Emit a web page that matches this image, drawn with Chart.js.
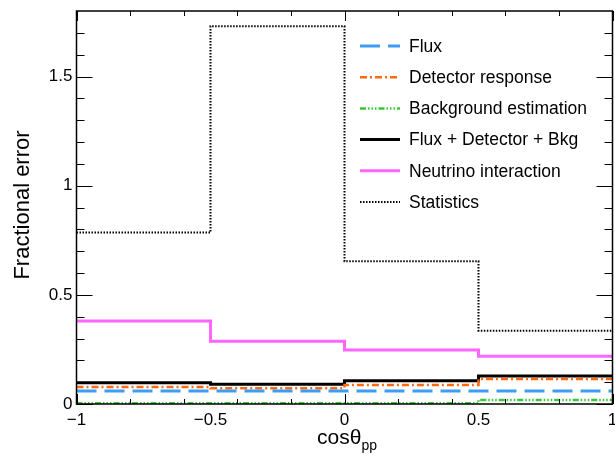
<!DOCTYPE html>
<html>
<head>
<meta charset="utf-8">
<title>Fractional error vs cos theta_pp</title>
<script src="https://cdn.jsdelivr.net/npm/chart.js@4.4.1/dist/chart.umd.min.js"></script>
<style>
  html, body { margin: 0; padding: 0; background: #fff; }
  canvas { display: block; }
</style>
</head>
<body>
<canvas id="errChart" width="615" height="458"></canvas>
<script>
// bin edges in cos(theta_pp) and the fractional error of each bin
const binEdges = [-1, -0.5, 0, 0.5, 1];
const fluxErr = [0.059, 0.059, 0.059, 0.059];
const detectorErr = [0.078, 0.072, 0.087, 0.114];
const bkgErr = [0.003, 0.003, 0.003, 0.018];
const totalErr = [0.097, 0.090, 0.107, 0.128];
const xsecErr = [0.380, 0.287, 0.247, 0.219];
const statErr = [0.785, 1.730, 0.654, 0.336];

// axis labels and tick marks
const xTickLabels = [-1, -0.5, 0, 0.5, 1];
const yTickLabels = [0, 0.5, 1, 1.5];
const xMajorTicks = [-1, 0, 1];
const xMinorTicks = [-0.8, -0.6, -0.4, -0.2, 0.2, 0.4, 0.6, 0.8];
const yMajorTicks = [0, 0.5, 1, 1.5];
const yMinorTicks = [0.1, 0.2, 0.3, 0.4, 0.6, 0.7, 0.8, 0.9, 1.1, 1.2, 1.3, 1.4, 1.6, 1.7];

const FONT = "'Liberation Sans', Arial, Helvetica, sans-serif";
Chart.defaults.font.family = FONT;
Chart.defaults.color = "#000";

// histogram -> step points (last edge repeats the last bin)
function steps(vals) {
  return binEdges.map((x, i) => ({ x, y: vals[Math.min(i, vals.length - 1)] }));
}

function fmt(v) {
  const s = String(Math.round(v * 10) / 10);
  return s.replace("-", "\u2212");
}

const series = [
  { label: "Flux", vals: fluxErr, color: "#3d9df2", width: 3, dash: [20, 8] },
  { label: "Detector response", vals: detectorErr, color: "#ff6a10", width: 2.5, dash: [7, 3, 2, 3] },
  { label: "Background estimation", vals: bkgErr, color: "#36c936", width: 2.5, dash: [6, 2, 1.5, 2, 1.5, 2, 1.5, 2] },
  { label: "Flux + Detector + Bkg", vals: totalErr, color: "#000000", width: 3, dash: [] },
  { label: "Neutrino interaction", vals: xsecErr, color: "#ff66ff", width: 3, dash: [] },
  { label: "Statistics", vals: statErr, color: "#000000", width: 2, dash: [1.5, 1.5] },
];

const datasets = series.map((s) => ({
  label: s.label,
  data: steps(s.vals),
  stepped: "before",
  borderColor: s.color,
  borderWidth: s.width,
  borderDash: s.dash,
  pointRadius: 0,
  fill: false,
  tension: 0,
}));

// ROOT-style frame with inward ticks, legend and axis titles
const framePlugin = {
  id: "frame",
  afterDraw(chart) {
    const { ctx, chartArea: a, scales } = chart;
    const xs = scales.x, ys = scales.y;
    ctx.save();
    ctx.strokeStyle = "#000";
    ctx.lineWidth = 1.5;
    ctx.setLineDash([]);
    ctx.strokeRect(a.left, a.top, a.right - a.left, a.bottom - a.top);

    ctx.lineWidth = 1;
    ctx.beginPath();
    const xTick = (v, len) => {
      const px = Math.round(xs.getPixelForValue(v)) + 0.5;
      ctx.moveTo(px, a.bottom); ctx.lineTo(px, a.bottom - len);
      ctx.moveTo(px, a.top); ctx.lineTo(px, a.top + len);
    };
    const yTick = (v, len) => {
      const py = Math.round(ys.getPixelForValue(v)) + 0.5;
      ctx.moveTo(a.left, py); ctx.lineTo(a.left + len, py);
      ctx.moveTo(a.right, py); ctx.lineTo(a.right - len, py);
    };
    xMajorTicks.forEach((v) => xTick(v, 10));
    xMinorTicks.forEach((v) => xTick(v, 5));
    yMajorTicks.forEach((v) => yTick(v, 16));
    yMinorTicks.forEach((v) => yTick(v, 8));
    ctx.stroke();

    // legend
    const lx = 360, ly = 46, row = 31.2;
    chart.data.datasets.forEach((ds, i) => {
      const y = ly + i * row;
      ctx.beginPath();
      ctx.strokeStyle = ds.borderColor;
      ctx.lineWidth = ds.borderWidth;
      ctx.setLineDash(ds.borderDash);
      ctx.moveTo(lx, y);
      ctx.lineTo(lx + 40, y);
      ctx.stroke();
      ctx.setLineDash([]);
      ctx.fillStyle = "#000";
      ctx.font = "17.5px " + FONT;
      ctx.textAlign = "left";
      ctx.textBaseline = "middle";
      ctx.fillText(ds.label, lx + 49, y + 1);
    });

    // axis titles
    ctx.fillStyle = "#000";
    ctx.font = "21px " + FONT;
    ctx.textBaseline = "alphabetic";
    ctx.textAlign = "left";
    const main = "cos\u03b8";
    const wMain = ctx.measureText(main).width;
    ctx.font = "14px " + FONT;
    const wSub = ctx.measureText("pp").width;
    const tx = 347 - (wMain + wSub) / 2;
    ctx.font = "21px " + FONT;
    ctx.fillText(main, tx, 444);
    ctx.font = "14px " + FONT;
    ctx.fillText("pp", tx + wMain, 450);

    ctx.translate(29, 205);
    ctx.rotate(-Math.PI / 2);
    ctx.font = "22px " + FONT;
    ctx.textAlign = "center";
    ctx.fillText("Fractional error", 0, 0);
    ctx.restore();
  },
};

const ctx = document.getElementById("errChart").getContext("2d");
const chart = new Chart(ctx, {
  type: "line",
  data: { datasets },
  options: {
    responsive: false,
    animation: false,
    devicePixelRatio: 1,
    layout: { padding: { top: 11, right: 2.5, left: 0, bottom: 0 } },
    plugins: {
      legend: { display: false },
      tooltip: { enabled: false },
    },
    scales: {
      x: {
        type: "linear",
        min: -1,
        max: 1,
        afterBuildTicks: (s) => { s.ticks = xTickLabels.map((v) => ({ value: v })); },
        afterFit: (s) => { s.height = 54; s.paddingLeft = 0; s.paddingRight = 0; },
        grid: { display: false, drawTicks: false },
        border: { display: false },
        ticks: {
          autoSkip: false,
          maxRotation: 0,
          padding: 6,
          font: { size: 17 },
          callback: (v) => fmt(v),
        },
      },
      y: {
        type: "linear",
        min: 0,
        max: 1.8,
        afterBuildTicks: (s) => { s.ticks = yTickLabels.map((v) => ({ value: v })); },
        afterFit: (s) => { s.width = 76.5; s.paddingTop = 0; s.paddingBottom = 0; },
        grid: { display: false, drawTicks: false },
        border: { display: false },
        ticks: {
          padding: 4,
          font: { size: 17 },
          callback: (v) => fmt(v),
        },
      },
    },
  },
  plugins: [framePlugin],
});
</script>
</body>
</html>
